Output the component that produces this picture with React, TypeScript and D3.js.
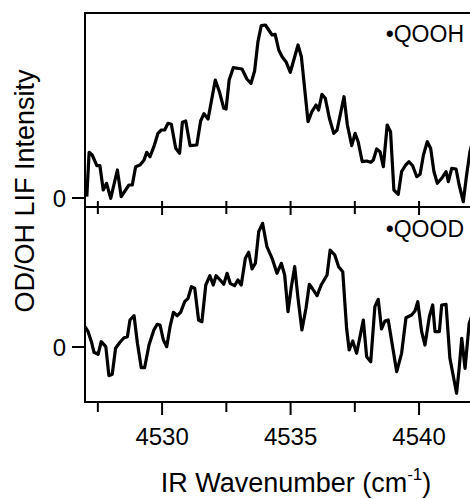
import React from 'react';
import * as d3 from 'd3';

// •QOOH spectrum (top panel)
const qoohWavenumber = [
  4527.07, 4527.16, 4527.28, 4527.46, 4527.58, 4527.71, 4527.84, 4528.0, 4528.26, 4528.41,
  4528.71, 4528.84, 4528.97, 4529.14, 4529.3, 4529.4, 4529.53, 4529.68, 4529.84, 4529.97,
  4530.1, 4530.23, 4530.36, 4530.53, 4530.68, 4530.79, 4530.92, 4531.09, 4531.35, 4531.5,
  4531.63, 4531.79, 4532.07, 4532.23, 4532.4, 4532.49, 4532.61, 4532.77, 4533.11, 4533.3,
  4533.46, 4533.6, 4533.73, 4533.86, 4534.02, 4534.15, 4534.28, 4534.4, 4534.54, 4534.67,
  4534.82, 4534.99, 4535.16, 4535.29, 4535.42, 4535.68, 4535.83, 4535.99, 4536.09, 4536.22,
  4536.35, 4536.51, 4536.68, 4536.81, 4537.08, 4537.21, 4537.38, 4537.51, 4537.63, 4537.79,
  4537.96, 4538.12, 4538.22, 4538.35, 4538.48, 4538.61, 4538.76, 4538.89, 4539.02, 4539.19,
  4539.32, 4539.48, 4539.61, 4539.75, 4539.91, 4540.04, 4540.17, 4540.32, 4540.45, 4540.58,
  4540.71, 4540.88, 4541.05, 4541.14, 4541.27, 4541.44, 4541.56, 4541.72, 4541.85, 4541.98,
  4542.12,
];
const qoohSignal = [
  0.13, 4.57, 4.3, 3.23, 3.23, 0.8, 1.47, -0.03, 2.8, 0.13,
  1.3, 1.3, 3.13, 3.3, 3.8, 4.57, 4.13, 5.13, 6.47, 6.8,
  6.8, 7.47, 7.37, 4.97, 4.47, 7.57, 7.7, 5.23, 5.3, 7.7,
  8.43, 7.9, 11.8, 10.63, 8.97, 8.9, 11.8, 13.03, 12.9, 11.9,
  11.47, 12.7, 15.63, 17.23, 17.3, 16.8, 16.3, 16.37, 14.8, 14.13,
  13.63, 12.57, 14.13, 15.3, 14.13, 7.63, 8.63, 9.3, 8.8, 10.37,
  9.97, 7.97, 6.47, 6.8, 10.13, 7.3, 5.23, 6.47, 5.63, 3.63,
  3.7, 3.57, 3.8, 4.9, 4.63, 3.13, 7.3, 6.63, 0.8, 0.37,
  2.63, 3.3, 3.63, 3.23, 2.13, 2.37, 4.3, 5.63, 4.97, 2.63,
  1.47, 1.97, 2.63, 1.63, 2.97, 2.9, 1.3, -0.37, 2.3, 4.63,
  6.0,
];

// •QOOD spectrum (bottom panel)
const qoodWavenumber = [
  4527.0, 4527.12, 4527.25, 4527.35, 4527.51, 4527.63, 4527.81, 4527.93, 4528.06, 4528.19,
  4528.36, 4528.52, 4528.65, 4528.75, 4528.91, 4529.04, 4529.19, 4529.32, 4529.49, 4529.68,
  4529.81, 4529.92, 4530.05, 4530.18, 4530.31, 4530.44, 4530.59, 4530.72, 4530.88, 4531.01,
  4531.14, 4531.27, 4531.42, 4531.55, 4531.7, 4531.86, 4531.99, 4532.1, 4532.26, 4532.4,
  4532.53, 4532.65, 4532.82, 4532.95, 4533.08, 4533.24, 4533.37, 4533.5, 4533.63, 4533.76,
  4533.91, 4534.08, 4534.28, 4534.47, 4534.64, 4534.77, 4534.9, 4535.03, 4535.16, 4535.29,
  4535.44, 4535.6, 4535.73, 4535.86, 4536.03, 4536.19, 4536.42, 4536.54, 4536.72, 4536.87,
  4537.03, 4537.18, 4537.28, 4537.42, 4537.57, 4537.7, 4537.83, 4537.96, 4538.12, 4538.28,
  4538.41, 4538.54, 4538.67, 4538.8, 4539.13, 4539.32, 4539.49, 4539.71, 4539.84, 4539.95,
  4540.1, 4540.23, 4540.4, 4540.53, 4540.62, 4540.79, 4540.88, 4541.05, 4541.2, 4541.46,
  4541.56, 4541.66, 4541.79, 4541.95, 4542.1,
];
const qoodSignal = [
  2.03, 1.53, 0.53, -0.53, -0.73, 0.53, 0.03, -2.87, -2.73, -0.13,
  0.47, 0.93, 1.03, 2.7, 3.13, 0.37, -2.07, -2.07, 0.2, 1.7,
  2.27, 2.2, 0.7, 0.03, 2.03, 3.47, 3.13, 3.47, 4.53, 4.87,
  6.03, 5.87, 2.7, 2.53, 6.2, 7.13, 6.2, 7.13, 6.7, 6.27,
  7.37, 6.37, 6.13, 6.7, 6.2, 8.87, 9.47, 7.8, 8.37, 11.53,
  12.37, 10.03, 8.87, 7.37, 8.37, 7.2, 3.53, 6.03, 8.03, 4.87,
  1.7, 3.87, 6.27, 5.8, 5.13, 6.2, 7.2, 9.7, 9.2, 8.03,
  7.53, 1.87, -0.3, 0.6, -0.63, 1.03, 2.7, -0.97, -1.47, 4.03,
  4.77, 1.8, 2.6, 2.7, -2.47, -0.63, 2.93, 3.2, 3.6, 4.53,
  1.53, 0.2, 3.03, 4.2, 1.53, 1.53, 4.2, 4.27, -1.13, -4.63,
  -2.13, 0.87, -2.13, 2.37, 3.5,
];

const xMajorTicks = [4530, 4535, 4540];
const xMinorTicks = [4527.5, 4532.5, 4537.5];
const yTickValues = [0];
const panelLabels = ['\u2022QOOH', '\u2022QOOD'];
const xAxisTitle = 'IR Wavenumber (cm';
const xAxisTitleSup = '-1';
const yAxisTitle = 'OD/OH LIF Intensity';

const W = 470;
const H = 499;
const FONT = "'Liberation Sans', Arial, Helvetica, sans-serif";

export default function App() {
  const left = 85;
  const x = d3.scaleLinear().domain([4527, 4542.2]).range([left, 475.6]);
  const yTop = d3.scaleLinear().domain([-0.9, 18.5]).range([207, 13]);
  const yBot = d3.scaleLinear().domain([-5.5, 14]).range([402, 207]);

  const topLine = d3
    .line<number>()
    .x((_, i) => x(qoohWavenumber[i]))
    .y((d) => yTop(d))(qoohSignal) as string;
  const botLine = d3
    .line<number>()
    .x((_, i) => x(qoodWavenumber[i]))
    .y((d) => yBot(d))(qoodSignal) as string;

  const midY = 207;
  const botY = 402;
  const topY = 13;

  return (
    <svg
      width={W}
      height={H}
      style={{ position: 'absolute', left: 0, top: 0, background: '#fff' }}
      fontFamily={FONT}
    >
      <defs>
        <clipPath id="clipTop">
          <rect x={left} y={topY} width={W - left} height={midY - topY} />
        </clipPath>
        <clipPath id="clipBot">
          <rect x={left} y={midY} width={W - left} height={botY - midY} />
        </clipPath>
      </defs>

      {/* data */}
      <path d={topLine} fill="none" stroke="#000" strokeWidth={3.2} strokeLinejoin="round" clipPath="url(#clipTop)" />
      <path d={botLine} fill="none" stroke="#000" strokeWidth={3.2} strokeLinejoin="round" clipPath="url(#clipBot)" />

      {/* frame */}
      <g stroke="#000" strokeWidth={2} fill="none">
        <line x1={left - 1} x2={W} y1={topY} y2={topY} />
        <line x1={left - 1} x2={W} y1={midY} y2={midY} />
        <line x1={left - 1} x2={W} y1={botY} y2={botY} />
        <line x1={left} x2={left} y1={topY - 1} y2={botY + 1} />
      </g>

      {/* x ticks at the panel boundary */}
      <g stroke="#000" strokeWidth={2}>
        {xMajorTicks.map((t) => (
          <line key={'mm' + t} x1={x(t)} x2={x(t)} y1={midY - 6} y2={midY + 8} />
        ))}
        {xMinorTicks.map((t) => (
          <line key={'mn' + t} x1={x(t)} x2={x(t)} y1={midY - 6} y2={midY + 7} />
        ))}
        {xMajorTicks.map((t) => (
          <line key={'bm' + t} x1={x(t)} x2={x(t)} y1={botY} y2={botY + 13} />
        ))}
        {xMinorTicks.map((t) => (
          <line key={'bn' + t} x1={x(t)} x2={x(t)} y1={botY} y2={botY + 10} />
        ))}
      </g>

      {/* x tick labels */}
      <g fontSize={24} textAnchor="middle" fill="#000">
        {xMajorTicks.map((t) => (
          <text key={'l' + t} x={x(t)} y={445}>
            {t}
          </text>
        ))}
      </g>

      {/* y ticks */}
      <g stroke="#000" strokeWidth={2}>
        {yTickValues.map((t) => (
          <line key={'yt' + t} x1={left - 13} x2={left} y1={yTop(t)} y2={yTop(t)} />
        ))}
        {yTickValues.map((t) => (
          <line key={'yb' + t} x1={left - 13} x2={left} y1={yBot(t)} y2={yBot(t)} />
        ))}
      </g>
      <g fontSize={24} textAnchor="end" fill="#000">
        {yTickValues.map((t) => (
          <text key={'ytl' + t} x={66} y={yTop(t) + 8.5}>
            {t}
          </text>
        ))}
        {yTickValues.map((t) => (
          <text key={'ybl' + t} x={66} y={yBot(t) + 8.5}>
            {t}
          </text>
        ))}
      </g>

      {/* panel labels */}
      <g fontSize={23} textAnchor="end" fill="#000">
        <text x={464} y={42}>{panelLabels[0]}</text>
        <text x={464} y={237}>{panelLabels[1]}</text>
      </g>

      {/* axis titles */}
      <text x={296} y={492} fontSize={27} textAnchor="middle" fill="#000">
        {xAxisTitle}
        <tspan fontSize={17} dy={-12}>{xAxisTitleSup}</tspan>
        <tspan dy={12}>)</tspan>
      </text>
      <text
        transform={`translate(34, 191) rotate(-90)`}
        fontSize={27}
        textAnchor="middle"
        fill="#000"
      >
        {yAxisTitle}
      </text>
    </svg>
  );
}
